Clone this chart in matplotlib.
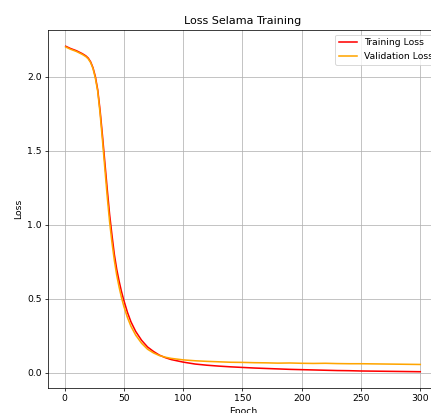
import numpy as np
import matplotlib
matplotlib.use('Agg')
import matplotlib.pyplot as plt

# loss values at selected epochs
epochs = [1, 5, 10, 15, 18, 20, 22, 24, 26, 28, 30, 32, 34, 36, 38, 40, 42, 44, 46, 48,
          50, 53, 56, 60, 65, 70, 75, 80, 85, 90, 100, 110, 120, 130, 140, 150, 160, 170,
          180, 190, 200, 210, 220, 230, 240, 250, 260, 270, 280, 290, 300]
train_loss = [2.205, 2.19, 2.175, 2.155, 2.14, 2.125, 2.10, 2.06, 2.00, 1.91, 1.77, 1.60,
              1.42, 1.24, 1.07, 0.93, 0.80, 0.70, 0.62, 0.55, 0.49, 0.41, 0.345, 0.28,
              0.22, 0.175, 0.145, 0.12, 0.103, 0.09, 0.073, 0.060, 0.052, 0.046, 0.041,
              0.037, 0.033, 0.030, 0.027, 0.024, 0.022, 0.020, 0.018, 0.016, 0.015,
              0.013, 0.012, 0.011, 0.010, 0.009, 0.008]
val_loss = [2.20, 2.185, 2.17, 2.15, 2.135, 2.12, 2.095, 2.055, 1.99, 1.90, 1.75, 1.57,
            1.38, 1.19, 1.02, 0.88, 0.76, 0.66, 0.58, 0.51, 0.45, 0.375, 0.315, 0.255,
            0.20, 0.16, 0.135, 0.117, 0.106, 0.098, 0.088, 0.082, 0.078, 0.075, 0.072,
            0.071, 0.069, 0.068, 0.066, 0.067, 0.065, 0.064, 0.065, 0.063, 0.062,
            0.062, 0.061, 0.060, 0.059, 0.058, 0.057]

dpi = 66.5
fig = plt.figure(figsize=(431 / dpi, 413 / dpi), dpi=dpi)
ax = fig.add_axes([48 / 431, 1 - 388 / 413, (438 - 48) / 431, (388 - 30) / 413])
ax.plot(epochs, train_loss, color='red', linewidth=1.7, label='Training Loss')
ax.plot(epochs, val_loss, color='orange', linewidth=1.7, label='Validation Loss')
ax.set_title('Loss Selama Training')
ax.set_xlabel('Epoch')
ax.set_ylabel('Loss')
ax.legend(loc='upper right', bbox_to_anchor=(1.01, 1.0))
ax.grid(True)
fig.savefig('out.png', dpi=dpi)
